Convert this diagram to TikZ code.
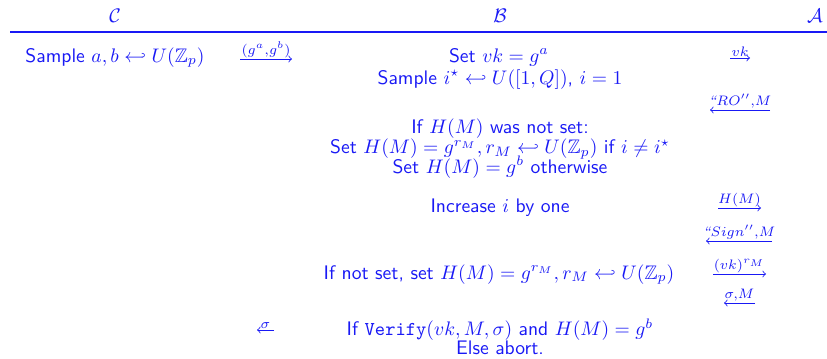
\documentclass[tikz,border=0pt]{standalone}
\usepackage{amsmath,amssymb}
\renewcommand\familydefault{\sfdefault}
\definecolor{ink}{RGB}{25,25,245}
\newcommand\tightlines{\fontsize{10}{10}\selectfont\lineskiplimit=-6pt\relax\lineskip=0pt\relax}
\tikzset{
  txt/.style={inner sep=0pt, anchor=base, text=ink, font=\sffamily},
  block/.style={inner sep=0pt, anchor=base, text=ink, align=center,
    font=\sffamily\tightlines},
  msg/.style={draw=ink, -{to}, line width=0.4pt},
  lbl/.style={inner sep=0.6pt, text=ink, above}
}
\begin{document}
\begin{tikzpicture}[x=0.51pt,y=-0.51pt]
\useasboundingbox (0,0) rectangle (827,358);
% headers
\node[txt] (hc) at (115,22) {$\mathcal{C}$};
\node[txt] (hb) at (500,22) {$\mathcal{B}$};
\node[txt] (ha) at (815,22) {$\mathcal{A}$};
\coordinate (l0) at (10,32);
\coordinate (l1) at (827,32);
\draw[ink, line width=0.6pt] (l0) -- (l1);
% row 1
\node[txt] (c1) at (115,62) {Sample $a,b \hookleftarrow U(\mathbb{Z}_p)$};
\coordinate (m1s) at (240,59); \coordinate (m1e) at (292,59);
\draw[msg] (m1s) -- (m1e) node[lbl, midway] {$\scriptstyle (g^a,g^b)$};
\node[txt] (b1) at (499,62) {Set $vk = g^a$};
\coordinate (m2s) at (730,58); \coordinate (m2e) at (750,58);
\draw[msg] (m2s) -- (m2e) node[lbl, midway] {$\scriptstyle vk$};
\node[txt] (b2) at (500,84) {Sample $i^\star \hookleftarrow U([1,Q])$, $i=1$};
% RO query
\coordinate (m3s) at (770,110); \coordinate (m3e) at (710,110);
\draw[msg] (m3s) -- (m3e) node[lbl, midway] {$\scriptstyle \text{\rmfamily\itshape ``}RO'',M$};
\node[block] (b3) at (500,173) {If $H(M)$ was not set:\\
  Set $H(M) = g^{r_M}, r_M \hookleftarrow U(\mathbb{Z}_p)$ if $i \neq i^\star$\\
  Set $H(M) = g^b$ otherwise};
\node[txt] (b6) at (500,212) {Increase $i$ by one};
\coordinate (m4s) at (718,208); \coordinate (m4e) at (761,208);
\draw[msg] (m4s) -- (m4e) node[lbl, midway] {$\scriptstyle H(M)$};
% Sign query
\coordinate (m5s) at (772,241); \coordinate (m5e) at (706,241);
\draw[msg] (m5s) -- (m5e) node[lbl, midway] {$\scriptstyle \text{\rmfamily\itshape ``}Sign'',M$};
\node[txt] (b7) at (499,279) {If not set, set $H(M) = g^{r_M}, r_M \hookleftarrow U(\mathbb{Z}_p)$};
\coordinate (m6s) at (713,274); \coordinate (m6e) at (766,274);
\draw[msg] (m6s) -- (m6e) node[lbl, midway] {$\scriptstyle (vk)^{r_M}$};
\coordinate (m7s) at (755,303); \coordinate (m7e) at (724,303);
\draw[msg] (m7s) -- (m7e) node[lbl, midway] {$\scriptstyle \sigma,M$};
% final
\coordinate (m8s) at (274,330); \coordinate (m8e) at (257,330);
\draw[msg] (m8s) -- (m8e) node[lbl, midway] {$\scriptstyle \sigma$};
\node[block] (b8) at (500,354) {If $\texttt{Verify}(vk,M,\sigma)$ and $H(M) = g^b$\\[-0.8pt]
  Else abort.};
\end{tikzpicture}
\end{document}
